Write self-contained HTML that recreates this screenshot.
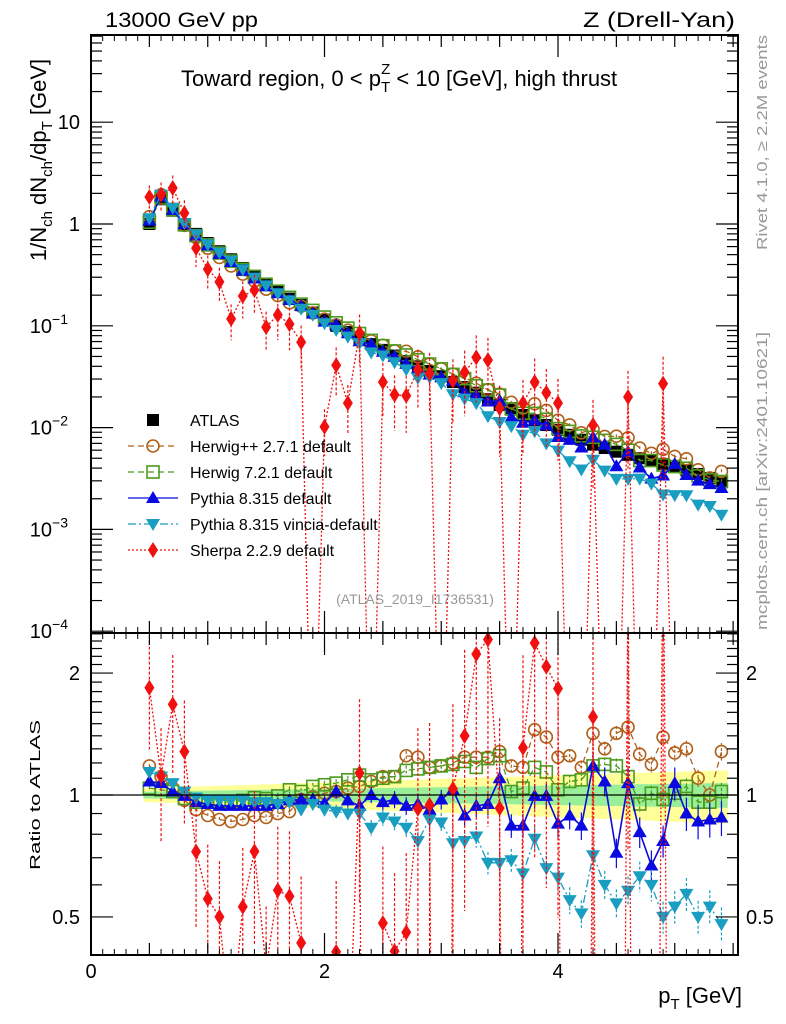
<!DOCTYPE html>
<html><head><meta charset="utf-8"><style>
html,body{margin:0;padding:0;background:#fff;overflow:hidden;width:786px;height:1024px;}
svg{display:block;font-family:"Liberation Sans",sans-serif;}
</style></head><body>
<svg id="chart" width="786" height="1024" viewBox="0 0 786 1024" xmlns="http://www.w3.org/2000/svg">
<g id="bands"></g>
<g id="marks"></g>
<g id="axes"></g>
<text x="105" y="27" font-size="21" textLength="153" lengthAdjust="spacingAndGlyphs">13000 GeV pp</text>
<text x="735" y="27" font-size="21" text-anchor="end" textLength="152" lengthAdjust="spacingAndGlyphs">Z (Drell-Yan)</text>
<text x="181" y="86" font-size="22">Toward region, 0 &lt; p<tspan font-size="15" dy="6">T</tspan><tspan font-size="15" dx="-9" dy="-18">Z</tspan><tspan dy="12"> &lt; 10 [GeV], high thrust</tspan></text>
<text transform="translate(46,160) rotate(-90)" font-size="22" text-anchor="middle">1/N<tspan font-size="15" dy="6">ch</tspan><tspan dy="-6"> dN</tspan><tspan font-size="15" dy="6">ch</tspan><tspan dy="-6">/dp</tspan><tspan font-size="15" dy="6">T</tspan><tspan dy="-6"> [GeV]</tspan></text>
<text transform="translate(40,795) rotate(-90)" font-size="15" text-anchor="middle" textLength="150" lengthAdjust="spacingAndGlyphs">Ratio to ATLAS</text>
<text x="742" y="1003" font-size="22" text-anchor="end">p<tspan font-size="15" dy="6">T</tspan><tspan dy="-6"> [GeV]</tspan></text>
<text transform="translate(767,35) rotate(-90)" font-size="15" fill="#999" text-anchor="end" textLength="215" lengthAdjust="spacingAndGlyphs">Rivet 4.1.0, ≥ 2.2M events</text>
<text transform="translate(767,630) rotate(-90)" font-size="15" fill="#999" text-anchor="start" textLength="298" lengthAdjust="spacingAndGlyphs">mcplots.cern.ch [arXiv:2401.10621]</text>
<text x="415" y="604" font-size="14" fill="#999" text-anchor="middle">(ATLAS_2019_I1736531)</text>
<g id="legend"></g>
</svg>
<script>
const xVals=[0.5,0.6,0.7,0.8,0.9,1.0,1.1,1.2,1.3,1.4,1.5,1.6,1.7,1.8,1.9,2.0,2.1,2.2,2.3,2.4,2.5,2.6,2.7,2.8,2.9,3.0,3.1,3.2,3.3,3.4,3.5,3.6,3.7,3.8,3.9,4.0,4.1,4.2,4.3,4.4,4.5,4.6,4.7,4.8,4.9,5.0,5.1,5.2,5.3,5.4];
const atlas=[1.0,1.75,1.35,1.0,0.80,0.65,0.54,0.45,0.37,0.31,0.26,0.22,0.185,0.16,0.135,0.115,0.10,0.087,0.075,0.066,0.058,0.051,0.045,0.040,0.036,0.032,0.028,0.025,0.022,0.019,0.0167,0.015,0.0133,0.0118,0.0106,0.0095,0.0085,0.0076,0.0068,0.0063,0.0058,0.0054,0.0050,0.0047,0.0044,0.0041,0.0038,0.0035,0.0032,0.0029];
const herwigppRatio=[1.18,1.11,1.04,0.97,0.92,0.89,0.87,0.86,0.87,0.89,0.88,0.90,0.91,0.975,0.99,1.01,1.02,1.04,1.05,1.08,1.11,1.11,1.25,1.24,1.17,1.18,1.20,1.24,1.24,1.24,1.28,1.18,1.17,1.45,1.39,1.24,1.25,1.17,1.42,1.30,1.42,1.47,1.26,1.19,1.39,1.27,1.30,1.10,1.0,1.28];
const herwig7Ratio=[1.04,1.03,1.02,0.98,0.96,0.96,0.96,0.96,0.97,0.985,0.98,0.995,1.03,1.02,1.05,1.06,1.07,1.09,1.12,1.09,1.10,1.11,1.15,1.16,1.17,1.18,1.19,1.21,1.17,1.23,1.25,1.02,1.04,1.17,1.14,1.03,1.08,1.09,1.18,1.19,1.18,1.11,0.95,1.01,0.975,1.01,1.05,0.96,0.96,1.02];
const pythiaRatio=[1.08,1.07,1.02,0.995,0.96,0.95,0.94,0.94,0.94,0.94,0.94,0.95,0.97,0.975,0.975,0.955,1.02,0.97,0.94,1.0,0.96,0.975,0.94,0.95,0.92,0.975,1.03,0.89,0.94,0.95,1.10,0.84,0.84,0.995,0.995,0.85,0.89,0.84,1.18,1.08,0.72,1.07,0.81,0.67,0.77,1.07,0.90,0.86,0.87,0.88];
const vinciaRatio=[1.14,1.11,1.07,1.02,0.985,0.97,0.97,0.97,0.97,0.96,0.96,0.95,0.96,0.92,0.95,0.92,0.91,0.90,0.90,0.83,0.88,0.86,0.83,0.77,0.87,0.855,0.76,0.77,0.79,0.68,0.68,0.69,0.64,0.78,0.66,0.625,0.55,0.51,0.71,0.60,0.54,0.58,0.63,0.60,0.50,0.53,0.57,0.50,0.53,0.48];
const sherpa=[1.84,1.95,2.26,1.28,0.58,0.36,0.27,0.117,0.196,0.225,0.097,0.128,0.104,0.069,1e-6,0.0102,0.041,0.0174,0.085,1e-6,0.028,0.021,0.0206,0.037,0.034,1e-6,0.029,0.035,0.049,0.046,0.0155,1e-6,0.0174,0.028,0.022,0.0174,1e-6,1e-6,0.0106,1e-6,1e-6,0.020,1e-6,1e-6,0.027,1e-6,1e-6,1e-6,1e-6,1e-6];
const yTicksMain=[1,0,-1,-2,-3,-4];
const ratioTicks=[2,1,0.5];
const xTicks=[0,2,4];

const NS="http://www.w3.org/2000/svg";
const L=91,R=738,T=35,MB=633,RB=955;
const X=v=>L+116.75*v;
const YM=v=>224-101.8*Math.log10(v);
const YR=r=>795-405*Math.log10(r);
function el(tag,attrs,parent){const e=document.createElementNS(NS,tag);for(const k in attrs)e.setAttribute(k,attrs[k]);parent.appendChild(e);return e;}
const svg=document.getElementById('chart');
const defs=el('defs',{},svg);
const cm=el('clipPath',{id:'cm'},defs);el('rect',{x:L,y:T,width:R-L,height:MB-T},cm);
const cr=el('clipPath',{id:'cr'},defs);el('rect',{x:L,y:MB,width:R-L,height:RB-MB},cr);
const bands=document.getElementById('bands');
const marks=document.getElementById('marks');
const axes=document.getElementById('axes');

const bandY=el('g',{'clip-path':'url(#cr)'},bands);
const bandG=el('g',{'clip-path':'url(#cr)'},bands);
xVals.forEach((x,i)=>{
  const w=0.04+0.11*i/49, g=0.02+0.05*i/49;
  const ry=el('rect',{x:X(x-0.05),y:YR(1+w),width:116.75*0.1+0.5,height:YR(1-w)-YR(1+w),fill:'#ffff9a'},bandY);
  
  
  const rg=el('rect',{x:X(x-0.05),y:YR(1+g),width:116.75*0.1+0.5,height:YR(1-g)-YR(1+g),fill:'#99ee99'},bandG);
  
  
});

function marker(g,type,cx,cy,col){
  let m;
  if(type==='sq') m=el('rect',{x:cx-6,y:cy-6,width:12,height:12,fill:'#000'},g);
  else if(type==='osq') m=el('rect',{x:cx-6,y:cy-6,width:12,height:12,fill:'none',stroke:col,'stroke-width':1.6},g);
  else if(type==='oc') m=el('circle',{cx:cx,cy:cy,r:6,fill:'none',stroke:col,'stroke-width':1.6},g);
  else if(type==='tu') m=el('polygon',{points:`${cx},${cy-7} ${cx-7},${cy+5} ${cx+7},${cy+5}`,fill:col},g);
  else if(type==='td') m=el('polygon',{points:`${cx},${cy+7} ${cx-7},${cy-5} ${cx+7},${cy-5}`,fill:col},g);
  else m=el('polygon',{points:`${cx},${cy-8} ${cx-5},${cy} ${cx},${cy+8} ${cx+5},${cy}`,fill:col},g);
  return m;
}
const series=[
 {name:'herwigpp',ratio:herwigppRatio,col:'#b0601a',type:'oc',dash:'6,4',err:0.01,errG:0.04,w:1.3},
 {name:'herwig7',ratio:herwig7Ratio,col:'#4b9b1c',type:'osq',dash:'6,4',err:0.01,errG:0.04,w:1.3},
 {name:'pythia',ratio:pythiaRatio,col:'#0a0ae0',type:'tu',dash:'',err:0.01,errG:0.09,w:1.6},
 {name:'vincia',ratio:vinciaRatio,col:'#199ec2',type:'td',dash:'8,3,2,3',err:0.01,errG:0.09,w:1.3},
];
function drawSeries(name,vals,ratios,col,type,dash,errAt,w){
  const gM=el('g',{'clip-path':'url(#cm)'},marks);
  
  
  const gR=el('g',{'clip-path':'url(#cr)'},marks);
  
  
  const pm=vals.map((v,i)=>`${X(xVals[i]).toFixed(1)},${YM(v).toFixed(1)}`).join(' ');
  const pr=ratios.map((r,i)=>`${X(xVals[i]).toFixed(1)},${YR(r).toFixed(1)}`).join(' ');
  el('polyline',{points:pm,fill:'none',stroke:col,'stroke-width':w,'stroke-dasharray':dash},gM);
  el('polyline',{points:pr,fill:'none',stroke:col,'stroke-width':w,'stroke-dasharray':dash},gR);
  vals.forEach((v,i)=>{
    const e=errAt(i), cx=X(xVals[i]);
    const r=ratios[i];
    el('line',{x1:cx,x2:cx,y1:YM(v*(1+e)),y2:YM(Math.max(v*(1-e),1e-7)),stroke:col,'stroke-width':1.2,'stroke-dasharray':dash?'3,2':''},gM);
    el('line',{x1:cx,x2:cx,y1:YR(r*(1+e)),y2:YR(Math.max(r*(1-e),1e-3)),stroke:col,'stroke-width':1.2,'stroke-dasharray':dash?'3,2':''},gR);
    const mm=marker(gM,type,cx,YM(v),col);
    
    
    const mr=marker(gR,type,cx,YR(r),col);
    
    
  });
}
(function(){
  const g=el('g',{'clip-path':'url(#cm)'},marks);
  
  
  atlas.forEach((v,i)=>{
    const m=marker(g,'sq',X(xVals[i]),YM(v),'#000');
    
    
  });
})();
series.forEach(s=>{
  const vals=atlas.map((a,i)=>a*s.ratio[i]);
  drawSeries(s.name,vals,s.ratio,s.col,s.type,s.dash,i=>s.err+s.errG*i/49,s.w);
});
const sherpaRatio=sherpa.map((v,i)=>v/atlas[i]);
drawSeries('sherpa',sherpa,sherpaRatio,'#f01010','dia','2,2',i=>0.3+0.6*i/49,1.3);
const one=el('line',{x1:L,x2:R,y1:YR(1),y2:YR(1),stroke:'#000','stroke-width':1.3},axes);



el('rect',{x:L,y:T,width:R-L,height:MB-T,fill:'none',stroke:'#000','stroke-width':2},axes);
el('rect',{x:L,y:MB,width:R-L,height:RB-MB,fill:'none',stroke:'#000','stroke-width':2},axes);
for(let k=0;k<=11;k++){
  const v=k*0.5,x=X(v);if(x>R)break;
  const big=(k%4===0)?22:12;
  [[MB,-1],[T,1],[RB,-1],[MB,1]].forEach(([y,d])=>el('line',{x1:x,x2:x,y1:y,y2:y+d*big,stroke:'#000','stroke-width':1.2},axes));
  for(let j=1;j<5;j++){const xm=X(v+j*0.1);if(xm<R){[[MB,-1],[T,1],[RB,-1],[MB,1]].forEach(([y,d])=>el('line',{x1:xm,x2:xm,y1:y,y2:y+d*6,stroke:'#000','stroke-width':1},axes));}}
}
xTicks.forEach(v=>{
  const t=el('text',{x:X(v),y:978,'font-size':20,'text-anchor':'middle'},axes);t.textContent=v;
  
  
});
for(let p=-4;p<=1;p++){
  for(let m=1;m<10;m++){
    const y=YM(m*Math.pow(10,p));if(y<T)break;
    const len=m===1?22:11;
    el('line',{x1:L,x2:L+len,y1:y,y2:y,stroke:'#000','stroke-width':1.2},axes);
    el('line',{x1:R,x2:R-len,y1:y,y2:y,stroke:'#000','stroke-width':1.2},axes);
  }
}
yTicksMain.forEach(p=>{
  const y=YM(Math.pow(10,p));
  const t=el('text',{x:80,y:y+7,'font-size':20,'text-anchor':'end'},axes);
  
  
  if(p===1)t.textContent='10';else if(p===0)t.textContent='1';
  else{t.setAttribute('x',68);t.textContent='10';const s=document.createElementNS(NS,'tspan');s.setAttribute('font-size',14);s.setAttribute('dy',-9);s.textContent='−'+(-p);t.appendChild(s);}
});
[0.4,0.5,0.6,0.7,0.8,0.9,1,1.1,1.2,1.3,1.4,1.5,1.6,1.7,1.8,1.9,2,2.1,2.2,2.3,2.4,2.5].forEach(r=>{
  const y=YR(r);if(y<MB||y>RB)return;
  const len=(r===0.5||r===1||r===2)?22:11;
  el('line',{x1:L,x2:L+len,y1:y,y2:y,stroke:'#000','stroke-width':1.2},axes);
  el('line',{x1:R,x2:R-len,y1:y,y2:y,stroke:'#000','stroke-width':1.2},axes);
});
ratioTicks.forEach(r=>{
  const y=YR(r);
  const t=el('text',{x:80,y:y+7,'font-size':20,'text-anchor':'end'},axes);t.textContent=r;
  
  
  const t2=el('text',{x:746,y:y+7,'font-size':20},axes);t2.textContent=r;
  
  
});
const leg=document.getElementById('legend');
const legItems=[
 ['ATLAS','#000','sq',''],
 ['Herwig++ 2.7.1 default','#b0601a','oc','6,4'],
 ['Herwig 7.2.1 default','#4b9b1c','osq','6,4'],
 ['Pythia 8.315 default','#0a0ae0','tu',''],
 ['Pythia 8.315 vincia-default','#199ec2','td','8,3,2,3'],
 ['Sherpa 2.2.9 default','#f01010','dia','2,2']
];
legItems.forEach((it,i)=>{
  const y=420+26*i;
  const g=el('g',{},leg);
  
  
  if(i>0)el('line',{x1:128,x2:178,y1:y,y2:y,stroke:it[1],'stroke-width':1.3,'stroke-dasharray':it[3]},g);
  marker(g,it[2],153,y,it[1]);
  const t=el('text',{x:190,y:y+6,'font-size':16},g);t.textContent=it[0];
});
</script>
</body></html>
